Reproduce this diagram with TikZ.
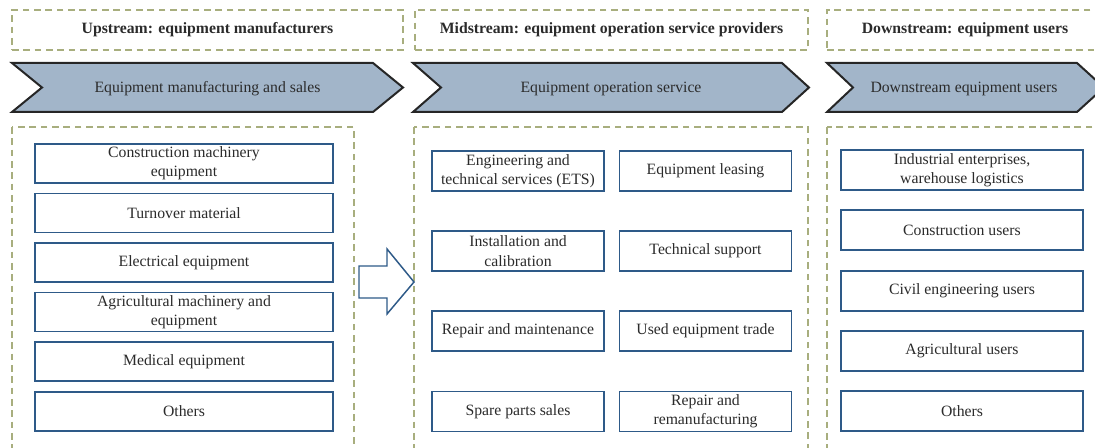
\documentclass[tikz,border=0pt]{standalone}
\usepackage{fontspec}
\setmainfont{Liberation Serif}
\usepackage{tikz}

\definecolor{boxblue}{HTML}{2E5A88}
\definecolor{chevfill}{HTML}{A2B5C9}
\definecolor{dashgreen}{HTML}{A8AE7E}
\definecolor{textgray}{HTML}{2B2B2B}

\tikzset{
  groupbox/.style={draw=dashgreen, line width=0.8pt, dash pattern=on 5pt off 3.5pt},
  titlebox/.style={groupbox, minimum height=30pt, text=textgray, font=\fontsize{11.8}{14.5}\selectfont\bfseries},
  chevron/.style={draw=black!85, fill=chevfill, line width=1.5pt},
  chevtext/.style={text=textgray, font=\fontsize{11.8}{14.5}\selectfont},
  itembox/.style={draw=boxblue, line width=1.4pt, fill=white, align=center, inner sep=1pt,
    text=textgray, font=\fontsize{11.8}{14.5}\selectfont},
  upbox/.style={itembox, minimum width=223.5pt, minimum height=29.25pt},
  midbox/.style={itembox, minimum width=129pt, minimum height=30pt},
  downbox/.style={itembox, minimum width=181.5pt, minimum height=30pt},
  blockarrow/.style={draw=boxblue, fill=white, line width=1.1pt, line join=miter}
}

\begin{document}
\begin{tikzpicture}[x=0.75pt, y=-0.75pt]
        \clip (0,0) rectangle (1095,448);
        % Draw the titles
        \node[titlebox, minimum width=293.25pt] (uptitle) at (207.5,30) {Upstream: equipment manufacturers};
        \node[titlebox, minimum width=294.75pt] (midtitle) at (611.5,30) {Midstream: equipment operation service providers};
        \node[titlebox, minimum width=207pt] (downtitle) at (965,30) {Downstream: equipment users};
        % Draw the chevrons
        \draw[chevron] (12,63) -- (373,63) -- (403,87.5) -- (373,112) -- (12,112) -- (42,87.5) -- cycle;
        \node[chevtext] (upchev) at (207.5,88.5) {Equipment manufacturing and sales};
        \draw[chevron] (413,63) -- (782,63) -- (809,87.5) -- (782,112) -- (413,112) -- (441,87.5) -- cycle;
        \node[chevtext] (midchev) at (611,88.5) {Equipment operation service};
        \draw[chevron] (827,63) -- (1077,63) -- (1104,87.5) -- (1077,112) -- (827,112) -- (853,87.5) -- cycle;
        \node[chevtext] (downchev) at (964,88.5) {Downstream equipment users};
        % Draw the dashed groups
        \draw[groupbox] (12,127) rectangle (354,460);
        \draw[groupbox] (414,127) rectangle (808,460);
        \draw[groupbox] (827,127) rectangle (1097,460);
        % Upstream items
        \node[upbox] (up1) at (184,163.5) {Construction machinery\\equipment};
        \node[upbox] (up2) at (184,213) {Turnover material};
        \node[upbox] (up3) at (184,262.5) {Electrical equipment};
        \node[upbox] (up4) at (184,312) {Agricultural machinery and\\equipment};
        \node[upbox] (up5) at (184,361.5) {Medical equipment};
        \node[upbox] (up6) at (184,411.5) {Others};
        % Draw the block arrow
        \draw[blockarrow] (359,266) -- (387,266) -- (387,249) -- (414,282) -- (387,314) -- (387,298) -- (359,298) -- cycle;
        % Midstream items
        \node[midbox] (mid1) at (518,171) {Engineering and\\technical services (ETS)};
        \node[midbox] (mid2) at (705.5,171) {Equipment leasing};
        \node[midbox] (mid3) at (518,251) {Installation and\\calibration};
        \node[midbox] (mid4) at (705.5,251) {Technical support};
        \node[midbox] (mid5) at (518,331) {Repair and maintenance};
        \node[midbox] (mid6) at (705.5,331) {Used equipment trade};
        \node[midbox] (mid7) at (518,411.5) {Spare parts sales};
        \node[midbox] (mid8) at (705.5,411.5) {Repair and\\remanufacturing};
        % Downstream items
        \node[downbox] (down1) at (962,170) {Industrial enterprises,\\warehouse logistics};
        \node[downbox] (down2) at (962,230) {Construction users};
        \node[downbox] (down3) at (962,291) {Civil engineering users};
        \node[downbox] (down4) at (962,351) {Agricultural users};
        \node[downbox] (down5) at (962,411) {Others};
\end{tikzpicture}
\end{document}
